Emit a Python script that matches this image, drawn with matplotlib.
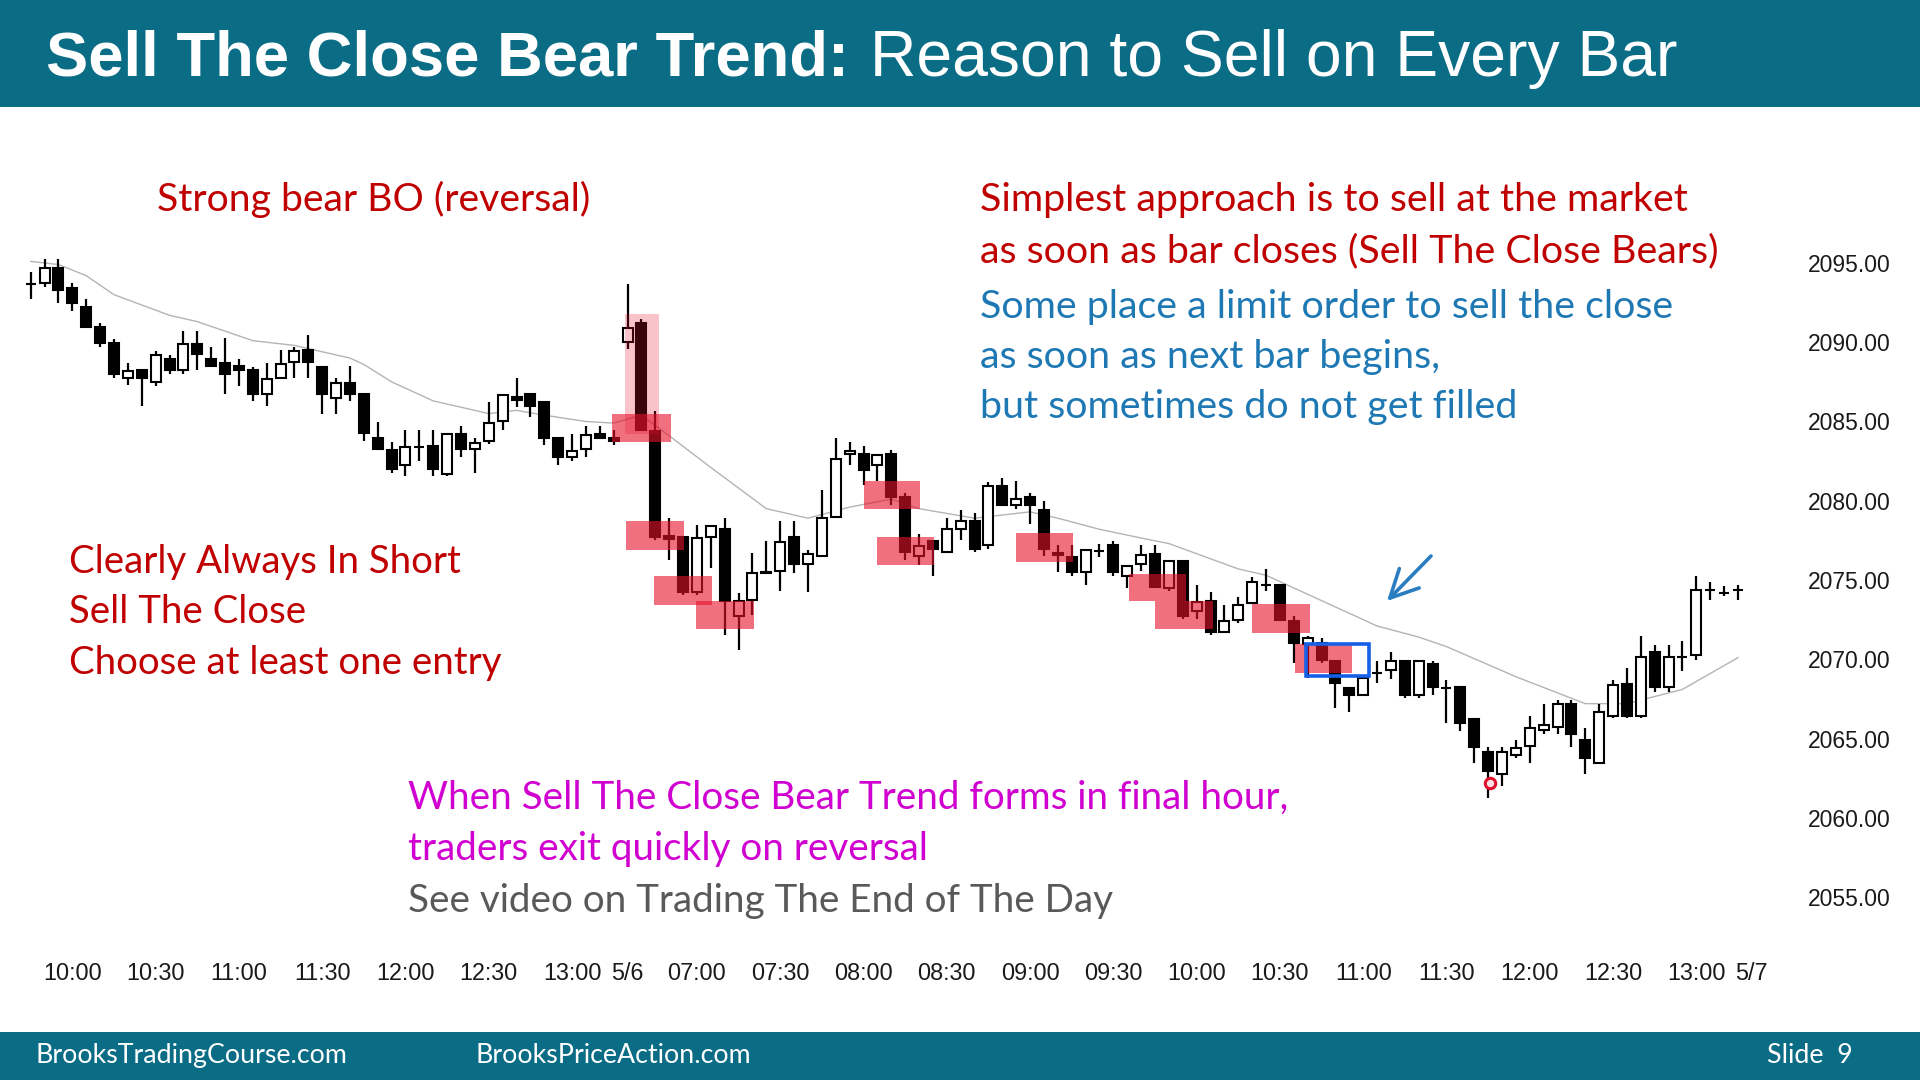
import matplotlib
matplotlib.use("Agg")
import matplotlib.pyplot as plt
from matplotlib.patches import Rectangle

plt.rcParams['font.family'] = ['Liberation Sans', 'DejaVu Sans']

# ---------------- data (5-min bars) ----------------
opens = [2093.65, 2093.76, 2094.70, 2093.44, 2092.22, 2090.96, 2089.97, 2087.76, 2088.22, 2087.50,
         2088.92, 2088.28, 2089.90, 2088.95, 2088.66, 2088.49, 2088.24, 2086.74, 2087.76, 2088.77,
         2089.48, 2088.45, 2086.49, 2087.44, 2086.71, 2083.93, 2083.23, 2082.28, 2083.40, 2083.44,
         2081.70, 2084.18, 2083.29, 2083.76, 2085.02, 2086.55, 2086.71, 2086.24, 2083.93, 2082.74,
         2083.29, 2084.18, 2083.93, 2090.01, 2091.23, 2084.43, 2077.80, 2077.69, 2074.24, 2077.71,
         2078.24, 2072.70, 2073.76, 2075.44, 2075.54, 2077.69, 2076.00, 2076.49, 2078.97, 2082.98,
         2082.95, 2082.28, 2082.98, 2080.22, 2076.49, 2077.44, 2076.74, 2078.24, 2078.70, 2077.23,
         2080.91, 2079.76, 2080.22, 2079.44, 2076.70, 2076.43, 2075.50, 2076.85, 2077.23, 2075.23,
         2076.00, 2076.64, 2074.49, 2076.17, 2073.06, 2073.65, 2071.75, 2072.49, 2073.54, 2074.66,
         2074.66, 2072.43, 2070.95, 2071.01, 2069.86, 2068.17, 2067.75, 2069.12, 2069.33, 2069.90,
         2067.75, 2069.69, 2068.17, 2068.22, 2066.21, 2064.17, 2062.74, 2063.96, 2064.53, 2065.54,
         2065.75, 2067.16, 2064.91, 2063.48, 2066.45, 2068.42, 2066.45, 2070.45, 2068.22, 2070.13,
         2070.24, 2074.38, 2074.17, 2074.38]
highs = [2094.45, 2095.23, 2095.23, 2093.72, 2092.70, 2091.23, 2090.22, 2088.70, 2088.22, 2089.44,
         2089.19, 2090.70, 2090.70, 2089.69, 2090.24, 2088.95, 2088.45, 2088.70, 2089.48, 2089.69,
         2090.45, 2088.45, 2087.72, 2088.49, 2086.71, 2084.96, 2083.69, 2084.45, 2084.45, 2084.45,
         2084.18, 2084.70, 2083.93, 2086.24, 2086.66, 2087.72, 2086.71, 2086.24, 2083.93, 2084.22,
         2084.70, 2084.70, 2084.47, 2093.69, 2091.44, 2085.69, 2078.91, 2077.69, 2078.45, 2078.39,
         2078.91, 2074.17, 2076.70, 2077.44, 2078.70, 2078.70, 2076.91, 2080.70, 2083.97, 2083.71,
         2083.48, 2082.91, 2083.23, 2080.49, 2077.92, 2077.44, 2078.91, 2079.44, 2079.23, 2081.18,
         2081.44, 2081.23, 2080.49, 2079.97, 2077.23, 2077.19, 2076.91, 2077.27, 2077.48, 2075.86,
         2077.19, 2077.23, 2076.17, 2076.17, 2074.66, 2074.22, 2073.40, 2073.90, 2075.16, 2075.71,
         2074.66, 2072.70, 2071.44, 2071.37, 2069.90, 2068.17, 2069.00, 2069.86, 2070.45, 2069.90,
         2069.90, 2069.90, 2068.70, 2068.22, 2066.21, 2064.44, 2064.44, 2064.91, 2066.45, 2067.16,
         2067.44, 2067.44, 2065.65, 2067.16, 2068.70, 2069.43, 2071.44, 2070.91, 2070.91, 2071.18,
         2075.23, 2074.87, 2074.60, 2074.66]
lows = [2092.75, 2093.50, 2092.50, 2091.97, 2090.95, 2089.71, 2087.76, 2087.29, 2085.97, 2087.27,
        2088.00, 2088.00, 2088.28, 2088.49, 2086.74, 2087.27, 2086.28, 2085.97, 2087.76, 2087.76,
        2087.76, 2085.50, 2085.50, 2086.28, 2083.76, 2083.29, 2081.75, 2081.54, 2082.49, 2081.54,
        2081.54, 2082.74, 2081.75, 2083.55, 2084.49, 2085.90, 2085.27, 2083.50, 2082.28, 2082.49,
        2082.74, 2083.97, 2083.50, 2089.55, 2084.49, 2077.55, 2076.28, 2074.03, 2074.03, 2075.75,
        2071.54, 2070.59, 2072.80, 2075.40, 2074.28, 2075.44, 2074.24, 2076.49, 2078.97, 2082.28,
        2081.00, 2081.27, 2079.76, 2076.28, 2075.97, 2075.27, 2076.74, 2077.50, 2076.74, 2076.98,
        2079.76, 2079.48, 2078.53, 2076.49, 2075.50, 2075.27, 2074.70, 2076.43, 2075.23, 2074.49,
        2075.54, 2074.53, 2074.28, 2072.55, 2072.55, 2071.54, 2071.75, 2072.28, 2073.54, 2074.28,
        2072.49, 2069.75, 2068.80, 2069.75, 2066.91, 2066.70, 2067.75, 2068.49, 2068.76, 2067.54,
        2067.54, 2067.75, 2065.96, 2065.50, 2063.48, 2061.27, 2062.02, 2063.75, 2063.48, 2065.27,
        2065.27, 2064.49, 2062.74, 2063.48, 2066.28, 2066.28, 2066.28, 2067.96, 2067.96, 2069.23,
        2069.96, 2073.75, 2073.96, 2073.75]
closes = [2093.65, 2094.67, 2093.30, 2092.49, 2090.98, 2089.97, 2087.97, 2088.18, 2087.76, 2089.19,
          2088.24, 2089.86, 2089.27, 2088.49, 2088.00, 2088.28, 2086.74, 2087.65, 2088.64, 2089.44,
          2088.77, 2086.74, 2087.40, 2086.74, 2084.28, 2083.29, 2082.01, 2083.40, 2083.40, 2082.01,
          2084.18, 2083.29, 2083.65, 2084.91, 2086.66, 2086.35, 2085.97, 2083.97, 2082.74, 2083.17,
          2084.13, 2083.97, 2083.80, 2090.91, 2084.49, 2077.69, 2077.60, 2074.24, 2077.65, 2078.39,
          2073.65, 2073.65, 2075.44, 2075.50, 2077.40, 2076.00, 2076.64, 2078.91, 2082.66, 2083.17,
          2081.97, 2082.91, 2080.22, 2076.74, 2077.17, 2076.98, 2078.22, 2078.70, 2076.98, 2080.91,
          2079.76, 2080.11, 2079.76, 2076.95, 2076.55, 2075.50, 2076.91, 2076.85, 2075.50, 2075.86,
          2076.55, 2074.53, 2076.17, 2072.76, 2073.60, 2071.75, 2072.39, 2073.40, 2074.87, 2074.66,
          2072.49, 2071.01, 2071.37, 2069.96, 2068.49, 2067.75, 2068.80, 2069.12, 2069.86, 2067.75,
          2069.90, 2068.28, 2068.17, 2065.96, 2064.49, 2062.95, 2064.17, 2064.38, 2065.65, 2065.86,
          2067.16, 2065.27, 2063.75, 2066.66, 2068.38, 2066.45, 2070.17, 2068.22, 2070.13, 2070.13,
          2074.38, 2074.38, 2074.17, 2074.38]

# moving average line, read at selected bars
ema_bars = [0, 2, 4, 6, 10, 12, 16, 19, 23, 24, 26, 29, 33, 35, 37, 40, 42, 44, 46, 49, 53, 56,
            59, 62, 64, 68, 72, 74, 77, 80, 82, 87, 89, 94, 97, 100, 102, 107, 112, 115, 119, 123]
ema_vals = [2095.1, 2094.9, 2094.2, 2093.0, 2091.7, 2091.3, 2090.1, 2089.8, 2089.0, 2088.6,
            2087.5, 2086.3, 2085.5, 2085.7, 2085.4, 2085.0, 2084.9, 2085.4, 2084.1, 2082.1,
            2079.5, 2078.9, 2079.6, 2080.1, 2079.5, 2078.9, 2079.3, 2078.9, 2078.2, 2077.65,
            2077.3, 2075.7, 2075.3, 2073.3, 2072.1, 2071.4, 2070.8, 2068.9, 2067.2, 2067.2,
            2068.1, 2070.1]

# time axis labels (bar index -> label)
xtick_bars = [3, 9, 15, 21, 27, 33, 39, 43, 48, 54, 60, 66, 72, 78, 84, 90, 96, 102, 108, 114, 120, 124]
xtick_labels = ['10:00', '10:30', '11:00', '11:30', '12:00', '12:30', '13:00', '5/6',
                '07:00', '07:30', '08:00', '08:30', '09:00', '09:30', '10:00', '10:30',
                '11:00', '11:30', '12:00', '12:30', '13:00', '5/7']
ytick_vals = [2055, 2060, 2065, 2070, 2075, 2080, 2085, 2090, 2095]
ytick_labels = ['%.2f' % v for v in ytick_vals]

# sell-the-close highlight zones: (first bar, last bar, low price, high price)
zone_x0 = [41.9, 42.9, 44.9, 47.9, 60.0, 61.0, 71.0, 79.1, 81.0, 88.0, 91.1]
zone_x1 = [46.1, 47.1, 49.1, 52.1, 64.1, 65.1, 75.1, 83.2, 85.2, 92.2, 95.2]
zone_lo = [2083.71, 2076.91, 2073.44, 2071.92, 2079.50, 2075.92, 2076.13, 2073.69, 2071.90, 2071.65, 2069.12]
zone_hi = [2085.48, 2078.70, 2075.23, 2073.69, 2081.27, 2077.69, 2077.96, 2075.37, 2073.69, 2073.48, 2070.95]
bo_zone = (42.8, 45.3, 2084.18, 2091.80)      # breakout bar highlight
blue_zone = (91.9, 96.4, 2068.95, 2070.95)    # limit order not filled
low_mark = (105.1, 2062.17)

# ---------------- figure ----------------
W, H = 1920, 1080
TEAL = '#0B6D85'
RED = '#C00000'
BLUE = '#1E78B4'
MAGENTA = '#D000D0'
GRAY = '#595959'

fig = plt.figure(figsize=(W / 100, H / 100), dpi=100)
fig.patch.set_facecolor('white')
fig.patches.append(Rectangle((0, 1 - 107 / H), 1, 107 / H, transform=fig.transFigure,
                             facecolor=TEAL, edgecolor='none', zorder=0))
fig.patches.append(Rectangle((0, 0), 1, 48 / H, transform=fig.transFigure,
                             facecolor=TEAL, edgecolor='none', zorder=0))

ax = fig.add_axes([0, (H - 940) / H, 1800 / W, 820 / H])
ax.patch.set_alpha(0)
ax.set_xlim(-2.212, 127.47)
ax.set_ylim(2052.29, 2104.02)
for s in ax.spines.values():
    s.set_visible(False)

# candles
BW = 0.72
for i, (o, h, l, c) in enumerate(zip(opens, highs, lows, closes)):
    ax.vlines(i, l, h, color='black', lw=1.6, zorder=2)
    face = 'white' if c > o else 'black'
    ax.add_patch(Rectangle((i - BW / 2, min(o, c)), BW, abs(c - o), facecolor=face,
                           edgecolor='black', lw=1.5, zorder=3))

# moving average
ax.plot(ema_bars, ema_vals, color='#B4B4B4', lw=1.0, zorder=1)

# highlight zones
ZC = '#E6112B'
ax.add_patch(Rectangle((bo_zone[0], bo_zone[2]), bo_zone[1] - bo_zone[0], bo_zone[3] - bo_zone[2],
                       facecolor=ZC, alpha=0.25, edgecolor='none', zorder=4))
for x0, x1, lo, hi in zip(zone_x0, zone_x1, zone_lo, zone_hi):
    ax.add_patch(Rectangle((x0, lo), x1 - x0, hi - lo, facecolor=ZC, alpha=0.6,
                           edgecolor='none', zorder=4))
ax.add_patch(Rectangle((blue_zone[0], blue_zone[2]), blue_zone[1] - blue_zone[0],
                       blue_zone[3] - blue_zone[2], facecolor='none', edgecolor='#1560E6',
                       lw=2.6, zorder=5))
ax.plot([low_mark[0]], [low_mark[1]], marker='o', ms=7.5, mfc='#FFE0E6', mec='#E0102A',
        mew=2.2, zorder=6)

# blue arrow (figure pixels, origin bottom-left)
ax.annotate('', xy=(1387, H - 601), xytext=(1431, H - 556), xycoords='figure pixels',
            textcoords='figure pixels',
            arrowprops=dict(arrowstyle='->,head_length=1.0,head_width=0.5', color='#2A7DC1',
                            lw=2.6, mutation_scale=20, shrinkA=0, shrinkB=0))

# axes ticks
ax.set_yticks(ytick_vals)
ax.set_yticklabels(ytick_labels)
ax.yaxis.tick_right()
ax.set_xticks(xtick_bars)
ax.set_xticklabels(xtick_labels)
ax.tick_params(axis='y', length=0, pad=5.8, labelsize=16.5, labelcolor='#1A1A1A')
ax.tick_params(axis='x', length=0, pad=16.0, labelsize=16.8, labelcolor='#1A1A1A')

# ---------------- texts ----------------
renderer = fig.canvas.get_renderer()


def fit(s, x, ybase, width, **kw):
    t = fig.text(x / W, 1 - ybase / H, s, ha='left', va='baseline', fontsize=20, **kw)
    w = t.get_window_extent(renderer).width
    t.set_fontsize(20 * width / w)
    return t.get_fontsize()


def put(s, x, ybase, size, **kw):
    fig.text(x / W, 1 - ybase / H, s, ha='left', va='baseline', fontsize=size, **kw)


SANS = ['Lato', 'DejaVu Sans']
ARIAL = ['Liberation Sans', 'DejaVu Sans']
fit('Sell The Close Bear Trend:', 46, 76, 802, color='white', weight='bold', family=ARIAL)
fit('Reason to Sell on Every Bar', 870, 76, 805, color='white', family=ARIAL)

s1 = fit('Strong bear BO (reversal)', 157, 211, 434, color=RED, family=SANS)

s2 = fit('Simplest approach is to sell at the market', 980, 211, 711, color=RED, family=SANS)
put('as soon as bar closes (Sell The Close Bears)', 980, 262, s2, color=RED, family=SANS)
put('Some place a limit order to sell the close', 980, 318, s2, color=BLUE, family=SANS)
put('as soon as next bar begins,', 980, 368, s2, color=BLUE, family=SANS)
put('but sometimes do not get filled', 980, 418, s2, color=BLUE, family=SANS)

s3 = fit('Clearly Always In Short', 69, 573, 392, color=RED, family=SANS)
put('Sell The Close', 69, 623, s3, color=RED, family=SANS)
put('Choose at least one entry', 69, 674, s3, color=RED, family=SANS)

s4 = fit('When Sell The Close Bear Trend forms in final hour,', 408, 809, 881,
         color=MAGENTA, family=SANS)
put('traders exit quickly on reversal', 408, 860, s4, color=MAGENTA, family=SANS)
put('See video on Trading The End of The Day', 408, 912, s4, color=GRAY, family=SANS)

f = fit('BrooksTradingCourse.com', 36, 1063, 311, color='white', family=SANS)
put('BrooksPriceAction.com', 475, 1063, f, color='white', family=SANS)
put('Slide  9', 1767, 1063, f, color='white', family=SANS)

fig.savefig('out.png', dpi=100, facecolor='white')
